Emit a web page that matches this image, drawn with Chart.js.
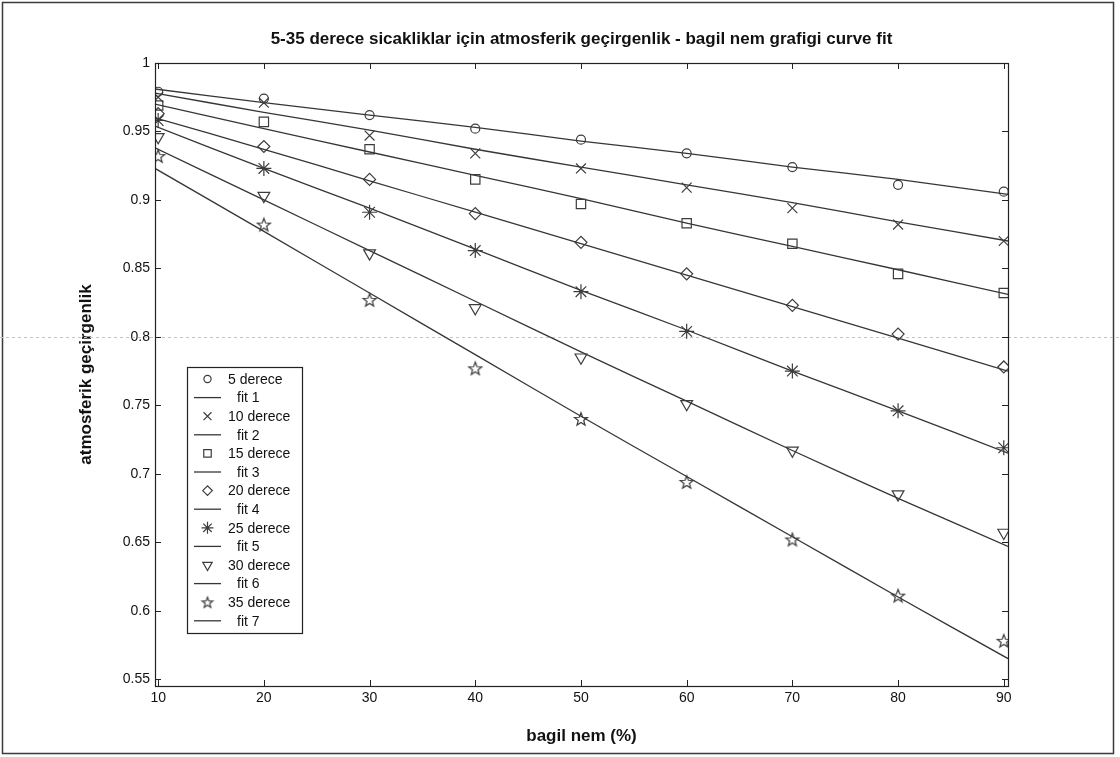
<!DOCTYPE html>
<html>
<head>
<meta charset="utf-8">
<script src="https://cdn.jsdelivr.net/npm/chart.js@4/dist/chart.umd.min.js"></script>
<style>
  html, body { margin: 0; padding: 0; background: #fff; }
  #wrap { width: 1120px; height: 757px; }
</style>
</head>
<body>
<div id="wrap"><canvas id="c" width="1120" height="757"></canvas></div>
<script>
// Relative humidity (%) at which transmittance was measured
const humidity = [10, 20, 30, 40, 50, 60, 70, 80, 90];
// Humidity points where the fitted curves are evaluated (axis edge to axis edge)
const fitHumidity = [9.7, 20, 30, 40, 50, 60, 70, 80, 90.4];

const seriesNames = ['5 derece', '10 derece', '15 derece', '20 derece', '25 derece', '30 derece', '35 derece'];
const fitNames = ['fit 1', 'fit 2', 'fit 3', 'fit 4', 'fit 5', 'fit 6', 'fit 7'];

// Measured atmospheric transmittance per temperature
const t5  = [0.979, 0.974, 0.962, 0.952, 0.944, 0.934, 0.924, 0.911, 0.906];
const t10 = [0.975, 0.971, 0.947, 0.934, 0.923, 0.909, 0.894, 0.882, 0.870];
const t15 = [0.969, 0.957, 0.937, 0.915, 0.897, 0.883, 0.868, 0.846, 0.832];
const t20 = [0.963, 0.939, 0.915, 0.890, 0.869, 0.846, 0.823, 0.802, 0.778];
const t25 = [0.958, 0.923, 0.891, 0.863, 0.833, 0.804, 0.775, 0.746, 0.719];
const t30 = [0.946, 0.903, 0.861, 0.821, 0.785, 0.751, 0.717, 0.685, 0.657];
const t35 = [0.932, 0.882, 0.827, 0.777, 0.740, 0.694, 0.652, 0.611, 0.578];

// Fitted curves
const fit1 = [0.981, 0.971, 0.962, 0.953, 0.943, 0.934, 0.924, 0.915, 0.904];
const fit2 = [0.978, 0.964, 0.951, 0.937, 0.924, 0.911, 0.898, 0.884, 0.870];
const fit3 = [0.970, 0.952, 0.935, 0.918, 0.901, 0.883, 0.866, 0.849, 0.831];
const fit4 = [0.960, 0.937, 0.914, 0.891, 0.868, 0.845, 0.822, 0.799, 0.775];
const fit5 = [0.954, 0.923, 0.894, 0.864, 0.834, 0.805, 0.775, 0.746, 0.715];
const fit6 = [0.938, 0.900, 0.863, 0.826, 0.789, 0.753, 0.717, 0.682, 0.647];
const fit7 = [0.923, 0.877, 0.832, 0.787, 0.742, 0.698, 0.654, 0.610, 0.565];

const xTickValues = [10, 20, 30, 40, 50, 60, 70, 80, 90];
const xTickLabels = ['10', '20', '30', '40', '50', '60', '70', '80', '90'];
const yTickValues = [0.55, 0.6, 0.65, 0.7, 0.75, 0.8, 0.85, 0.9, 0.95, 1];
const yTickLabels = ['0.55', '0.6', '0.65', '0.7', '0.75', '0.8', '0.85', '0.9', '0.95', '1'];

const titleText = '5-35 derece sicakliklar için atmosferik geçirgenlik - bagil nem grafigi curve fit';

const measured = [t5, t10, t15, t20, t25, t30, t35];
const fits = [fit1, fit2, fit3, fit4, fit5, fit6, fit7];

const MARK = '#3c3c3c';
const FONT = '"Liberation Sans", Arial, Helvetica, sans-serif';

// Five-pointed star marker
function makePentagram(r) {
  const s = Math.ceil(r * 2 + 4);
  const cv = document.createElement('canvas');
  cv.width = s; cv.height = s;
  const g = cv.getContext('2d');
  const c = s / 2;
  g.beginPath();
  for (let i = 0; i < 10; i++) {
    const rr = i % 2 === 0 ? r : r * 0.42;
    const a = -Math.PI / 2 + i * Math.PI / 5;
    const px = c + rr * Math.cos(a), py = c + 0.6 + rr * Math.sin(a);
    if (i === 0) g.moveTo(px, py); else g.lineTo(px, py);
  }
  g.closePath();
  g.strokeStyle = MARK;
  g.lineWidth = 1.2;
  g.stroke();
  return cv;
}
const pentagram = makePentagram(6.8);
const pentagramSmall = makePentagram(5.6);

const markers = [
  { pointStyle: 'circle',   radius: 4.5, rotation: 0 },
  { pointStyle: 'crossRot', radius: 7,   rotation: 0 },
  { pointStyle: 'rect',     radius: 6.6, rotation: 0 },
  { pointStyle: 'rectRot',  radius: 6,   rotation: 0 },
  { pointStyle: 'star',     radius: 7.5, rotation: 0 },
  { pointStyle: 'triangle', radius: 6.8, rotation: 180 },
  { pointStyle: pentagram,  radius: 7,   rotation: 0 }
];

const datasets = [];
measured.forEach((vals, i) => {
  datasets.push({
    label: seriesNames[i],
    type: 'scatter',
    data: humidity.map((h, k) => ({ x: h, y: vals[k] })),
    showLine: false,
    pointStyle: markers[i].pointStyle,
    pointRadius: markers[i].radius,
    pointRotation: markers[i].rotation,
    pointBorderColor: MARK,
    pointBackgroundColor: 'rgba(0,0,0,0)',
    pointBorderWidth: 1.2
  });
  datasets.push({
    label: fitNames[i],
    type: 'line',
    data: fitHumidity.map((h, k) => ({ x: h, y: fits[i][k] })),
    borderColor: '#363636',
    borderWidth: 1.3,
    pointRadius: 0,
    tension: 0.3,
    fill: false
  });
});

// Figure frame, scan line, axes box, inward ticks, title and legend
const decorations = {
  id: 'decorations',
  beforeDraw(chart) {
    const { ctx, width, height } = chart;
    ctx.save();
    ctx.fillStyle = '#fff';
    ctx.fillRect(0, 0, width, height);
    ctx.strokeStyle = '#3a3a3a';
    ctx.lineWidth = 1.5;
    ctx.strokeRect(2.5, 2.5, 1111, 751);
    ctx.restore();
  },
  beforeDatasetsDraw(chart) {
    const { ctx, width, scales: { y } } = chart;
    const py = Math.round(y.getPixelForValue(0.8)) + 0.5;
    ctx.save();
    ctx.strokeStyle = '#c4c4c4';
    ctx.lineWidth = 1;
    ctx.setLineDash([3, 3]);
    ctx.beginPath();
    ctx.moveTo(0, py); ctx.lineTo(width, py);
    ctx.stroke();
    ctx.restore();
  },
  afterDraw(chart) {
    const { ctx, chartArea: a, scales: { x, y } } = chart;
    ctx.save();
    ctx.strokeStyle = '#222';
    ctx.lineWidth = 1.2;
    ctx.strokeRect(Math.round(a.left) + 0.5, Math.round(a.top) + 0.5,
                   Math.round(a.right - a.left), Math.round(a.bottom - a.top));
    const tl = 6;
    ctx.lineWidth = 1;
    ctx.beginPath();
    xTickValues.forEach(v => {
      const px = Math.round(x.getPixelForValue(v)) + 0.5;
      ctx.moveTo(px, a.bottom); ctx.lineTo(px, a.bottom - tl);
      ctx.moveTo(px, a.top); ctx.lineTo(px, a.top + tl);
    });
    yTickValues.forEach(v => {
      const py = Math.round(y.getPixelForValue(v)) + 0.5;
      ctx.moveTo(a.left, py); ctx.lineTo(a.left + tl, py);
      ctx.moveTo(a.right, py); ctx.lineTo(a.right - tl, py);
    });
    ctx.stroke();

    // title
    ctx.fillStyle = '#111';
    ctx.font = 'bold 17px ' + FONT;
    ctx.textAlign = 'center';
    ctx.textBaseline = 'middle';
    ctx.fillText(titleText, (a.left + a.right) / 2, 39);

    // legend box
    const bx = 187, by = 367, bw = 115, bh = 266;
    ctx.fillStyle = '#fff';
    ctx.fillRect(bx, by, bw, bh);
    ctx.strokeStyle = '#222';
    ctx.lineWidth = 1.2;
    ctx.strokeRect(bx + 0.5, by + 0.5, bw, bh);
    const rowH = 18.6;
    const ry = by + 12;
    ctx.font = '14px ' + FONT;
    ctx.textAlign = 'left';
    ctx.textBaseline = 'middle';
    chart.data.datasets.forEach((ds, i) => {
      const cy = ry + i * rowH;
      if (ds.type === 'scatter') {
        ctx.strokeStyle = MARK;
        ctx.fillStyle = 'rgba(0,0,0,0)';
        ctx.lineWidth = 1.2;
        const m = markers[i / 2];
        Chart.helpers.drawPoint(ctx, {
          pointStyle: m.pointStyle === pentagram ? pentagramSmall : m.pointStyle,
          rotation: m.rotation,
          radius: m.radius * 0.8,
          borderWidth: 1.2
        }, 207.5, cy);
        ctx.fillStyle = '#111';
        ctx.fillText(ds.label, 228, cy + 1);
      } else {
        ctx.strokeStyle = '#363636';
        ctx.lineWidth = 1.3;
        ctx.beginPath();
        ctx.moveTo(194, cy); ctx.lineTo(221, cy);
        ctx.stroke();
        ctx.fillStyle = '#111';
        ctx.fillText(ds.label, 237, cy + 1);
      }
    });
    ctx.restore();
  }
};

new Chart(document.getElementById('c'), {
  type: 'scatter',
  data: { datasets },
  options: {
    responsive: false,
    animation: false,
    devicePixelRatio: 1,
    layout: { padding: { left: 70, right: 112, top: 63, bottom: 7 } },
    plugins: {
      legend: { display: false },
      tooltip: { enabled: false },
      title: { display: false }
    },
    scales: {
      x: {
        type: 'linear',
        min: 9.7,
        max: 90.4,
        grid: { display: false, drawTicks: false },
        border: { display: false },
        afterBuildTicks(scale) { scale.ticks = xTickValues.map(v => ({ value: v })); },
        afterFit(scale) { scale.height = 64; },
        ticks: {
          padding: 4,
          color: '#111',
          font: { family: FONT, size: 14 },
          maxRotation: 0,
          callback: (v) => xTickLabels[xTickValues.indexOf(v)]
        },
        title: {
          display: true,
          text: 'bagil nem (%)',
          color: '#111',
          font: { family: FONT, size: 17, weight: 'bold' },
          padding: { top: 0, bottom: 3 }
        }
      },
      y: {
        type: 'linear',
        min: 0.545,
        max: 1,
        grid: { display: false, drawTicks: false },
        border: { display: false },
        afterBuildTicks(scale) { scale.ticks = yTickValues.map(v => ({ value: v })); },
        afterFit(scale) { scale.width = 85; },
        ticks: {
          padding: 5,
          color: '#111',
          font: { family: FONT, size: 14 },
          callback: (v) => {
            const k = yTickValues.findIndex(t => Math.abs(t - v) < 1e-9);
            return k >= 0 ? yTickLabels[k] : '';
          }
        },
        title: {
          display: true,
          text: 'atmosferik geçirgenlik',
          color: '#111',
          font: { family: FONT, size: 17, weight: 'bold' },
          padding: { top: 6, bottom: 0 }
        }
      }
    }
  },
  plugins: [decorations]
});
</script>
</body>
</html>
